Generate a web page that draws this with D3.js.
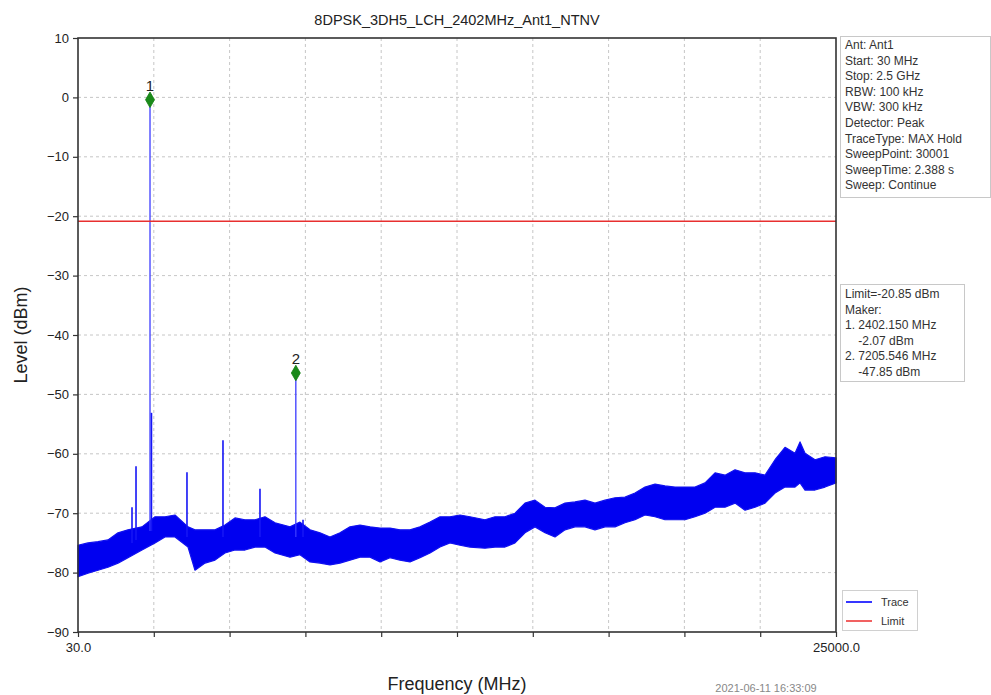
<!DOCTYPE html>
<html><head><meta charset="utf-8">
<script src="https://cdn.jsdelivr.net/npm/d3@7"></script>
<style>body{margin:0;background:#fff;} text{font-family:"Liberation Sans",Arial,sans-serif;}</style>
</head><body>
<svg id="chart" width="991" height="695"></svg>
<script>
// ---- data ----
const title = "8DPSK_3DH5_LCH_2402MHz_Ant1_NTNV";
const xTicks = [30, 2527, 5024, 7521, 10018, 12515, 15012, 17509, 20006, 22503, 25000];
const xTickLabels = ["30.0", "", "", "", "", "", "", "", "", "", "25000.0"];
const yTicks = [-90, -80, -70, -60, -50, -40, -30, -20, -10, 0, 10];
// noise-floor envelope (MHz, upper dBm, lower dBm)
const envFreq = [30,359,689,1018,1348,1677,2138,2567,2896,3225,3654,3884,4214,4543,4872,5202,5531,5861,6190,6520,7014,7343,7673,8002,8331,8661,8990,9320,9649,9979,10308,10637,10967,11296,11626,11955,12284,12614,12943,13437,13767,14096,14426,14755,15085,15414,15743,16073,16402,16732,17061,17391,17720,18049,18379,18708,19038,19367,19697,20026,20356,20685,21015,21344,21674,22003,22333,22662,22992,23321,23650,23815,23980,24309,24639,25000];
const envHigh = [-75.4,-75.0,-74.8,-74.5,-73.3,-72.8,-72.3,-70.6,-70.6,-70.3,-72.3,-72.8,-72.8,-72.8,-72.0,-70.8,-71.1,-71.1,-70.6,-71.6,-72.3,-71.5,-72.8,-73.3,-74.0,-73.3,-72.3,-72.0,-72.3,-72.5,-72.5,-72.8,-72.8,-72.3,-71.5,-70.6,-70.6,-70.3,-70.6,-71.1,-70.6,-70.6,-70.0,-68.3,-67.8,-69.0,-69.1,-68.3,-68.1,-67.8,-68.3,-67.8,-67.4,-67.3,-66.6,-65.6,-65.1,-65.4,-65.6,-65.6,-65.6,-64.9,-63.2,-63.6,-62.7,-63.2,-63.2,-63.6,-61.0,-58.9,-59.9,-58.0,-59.9,-61.0,-60.5,-60.7];
const envLow = [-80.7,-80.1,-79.6,-79.1,-78.4,-77.5,-76.2,-75.0,-74.0,-74.0,-75.7,-79.6,-78.4,-77.9,-76.7,-76.2,-76.2,-75.7,-75.7,-76.7,-77.4,-77.0,-78.2,-78.4,-78.7,-78.4,-77.9,-77.4,-77.4,-78.2,-77.5,-77.9,-78.2,-77.5,-76.7,-75.7,-75.0,-75.4,-75.7,-75.9,-75.7,-75.7,-75.0,-73.3,-72.3,-73.3,-74.0,-72.8,-72.3,-72.3,-72.8,-72.3,-72.3,-71.6,-71.1,-70.3,-70.6,-71.1,-71.1,-71.1,-70.6,-70.0,-69.0,-69.0,-68.3,-69.5,-69.0,-68.3,-66.6,-65.6,-65.6,-64.9,-66.1,-66.1,-65.6,-64.9];
// discrete spurs (MHz, peak dBm, base dBm)
const spurFreq = [1809, 1941, 2402.15, 2450, 3620, 4806, 6025, 7205.546, 7442];
const spurPeak = [-69.0, -62.1, -0.4, -53.1, -63.1, -57.7, -65.9, -46.4, -71.1];
const spurBase = [-75.0, -74.5, -73.0, -73.0, -74.0, -74.0, -74.0, -74.0, -74.0];
const limitValue = -20.85;
const markerLabels = ["1", "2"];
const markerFreq = [2402.15, 7205.546];
const markerLevel = [-0.4, -46.4];
const infoLines = ["Ant: Ant1","Start: 30 MHz","Stop: 2.5 GHz","RBW: 100 kHz","VBW: 300 kHz","Detector: Peak","TraceType: MAX Hold","SweepPoint: 30001","SweepTime: 2.388 s","Sweep: Continue"];
const markerLines = ["Limit=-20.85 dBm","Maker:","1. 2402.150 MHz","    -2.07 dBm","2. 7205.546 MHz","    -47.85 dBm"];
const legendNames = ["Trace", "Limit"];
const legendColors = ["#2020ff", "#f05050"];
const timestamp = "2021-06-11 16:33:09";

// ---- drawing ----
const svg = d3.select("#chart");
const L = 78, R = 836, T = 38, B = 632;
const x = d3.scaleLinear().domain([30, 25000]).range([L, R]);
const y = d3.scaleLinear().domain([-90, 10]).range([B, T]);

svg.append("rect").attr("width", 991).attr("height", 695).attr("fill", "#fff");

// grid
const grid = svg.append("g");
grid.selectAll(".gx").data(xTicks.slice(1, -1)).enter().append("line")
  .attr("x1", d => x(d)).attr("x2", d => x(d)).attr("y1", T).attr("y2", B)
  .attr("stroke", "#b8b8b8").attr("stroke-width", 0.8).attr("stroke-dasharray", "3,3");
grid.selectAll(".gy").data(yTicks.slice(1, -1)).enter().append("line")
  .attr("x1", L).attr("x2", R).attr("y1", d => y(d)).attr("y2", d => y(d))
  .attr("stroke", "#b8b8b8").attr("stroke-width", 0.8).attr("stroke-dasharray", "3,3");

// trace band
const env = envFreq.map((f, i) => ({f, hi: envHigh[i], lo: envLow[i]}));
const area = d3.area().x(d => x(d.f)).y0(d => y(d.lo)).y1(d => y(d.hi));
svg.append("path").datum(env).attr("d", area).attr("fill", "#0000f0")
  .attr("stroke", "#1010f0").attr("stroke-width", 1.2).attr("stroke-linejoin", "round");

// spurs
svg.selectAll(".spur").data(spurFreq).enter().append("line")
  .attr("x1", d => x(d)).attr("x2", d => x(d))
  .attr("y1", (d, i) => y(spurBase[i])).attr("y2", (d, i) => y(spurPeak[i]))
  .attr("stroke", (d, i) => (i === 2 || i === 7) ? "#3a3aff" : "#1515f5")
  .attr("stroke-width", (d, i) => (i === 2 || i === 7) ? 1.3 : 1.6);

// limit line
svg.append("line").attr("x1", L).attr("x2", R).attr("y1", y(limitValue)).attr("y2", y(limitValue))
  .attr("stroke", "#e83030").attr("stroke-width", 1.3);

// markers
const diamond = d3.symbol().type(d3.symbolDiamond).size(70);
markerFreq.forEach((f, i) => {
  svg.append("path").attr("d", diamond).attr("transform", `translate(${x(f)},${y(markerLevel[i])})`)
    .attr("fill", "#1a8a1a").attr("stroke", "#108010").attr("stroke-width", 0.8);
  svg.append("text").attr("x", x(f)).attr("y", y(markerLevel[i]) - 9).attr("text-anchor", "middle")
    .attr("font-size", 15).attr("fill", "#222").text(markerLabels[i]);
});

// axes
const yAxis = d3.axisLeft(y).tickValues(yTicks).tickSize(5).tickPadding(4);
const gy = svg.append("g").attr("transform", `translate(${L},0)`).call(yAxis);
gy.selectAll("text").attr("font-size", 13).attr("fill", "#222").style("font-family", "Liberation Sans, Arial, sans-serif");
const xAxis = d3.axisBottom(x).tickValues(xTicks).tickFormat((d, i) => xTickLabels[i]).tickSize(5).tickPadding(6);
const gx = svg.append("g").attr("transform", `translate(0,${B})`).call(xAxis);
gx.selectAll("text").attr("font-size", 13).attr("fill", "#222").style("font-family", "Liberation Sans, Arial, sans-serif");
[gx, gy].forEach(g => { g.select(".domain").remove(); g.selectAll(".tick line").attr("stroke", "#333").attr("stroke-width", 1.2); });

// frame
svg.append("rect").attr("x", L).attr("y", T).attr("width", R - L).attr("height", B - T)
  .attr("fill", "none").attr("stroke", "#333").attr("stroke-width", 1.6);

// titles
svg.append("text").attr("x", (L + R) / 2).attr("y", 25).attr("text-anchor", "middle")
  .attr("font-size", 14.5).attr("fill", "#222").text(title);
svg.append("text").attr("x", (L + R) / 2).attr("y", 690).attr("text-anchor", "middle")
  .attr("font-size", 18).attr("fill", "#222").text("Frequency (MHz)");
svg.append("text").attr("transform", `translate(27,${(T + B) / 2}) rotate(-90)`).attr("text-anchor", "middle")
  .attr("font-size", 18).attr("fill", "#222").text("Level (dBm)");
svg.append("text").attr("x", 766).attr("y", 692).attr("text-anchor", "middle")
  .attr("font-size", 11).attr("fill", "#888").text(timestamp);

// info box
svg.append("rect").attr("x", 840.5).attr("y", 36.5).attr("width", 150).attr("height", 161)
  .attr("fill", "#fff").attr("stroke", "#c8c8c8");
svg.selectAll(".info").data(infoLines).enter().append("text")
  .attr("x", 845).attr("y", (d, i) => 49 + i * 15.6).attr("font-size", 12).attr("fill", "#333")
  .text(d => d);

// marker box
svg.append("rect").attr("x", 840.5).attr("y", 284.5).attr("width", 124).attr("height", 97)
  .attr("fill", "#fff").attr("stroke", "#c8c8c8");
svg.selectAll(".mk").data(markerLines).enter().append("text")
  .attr("x", 845).attr("y", (d, i) => 298 + i * 15.6).attr("font-size", 12).attr("fill", "#333")
  .style("white-space", "pre").text(d => d);

// legend
svg.append("rect").attr("x", 842.5).attr("y", 590.5).attr("width", 75).attr("height", 40)
  .attr("fill", "#fff").attr("stroke", "#d0d0d0");
legendNames.forEach((n, i) => {
  svg.append("line").attr("x1", 846).attr("x2", 872).attr("y1", 602 + i * 19).attr("y2", 602 + i * 19)
    .attr("stroke", legendColors[i]).attr("stroke-width", 1.8);
  svg.append("text").attr("x", 881).attr("y", 606 + i * 19).attr("font-size", 11).attr("fill", "#333").text(n);
});
</script>
</body></html>
